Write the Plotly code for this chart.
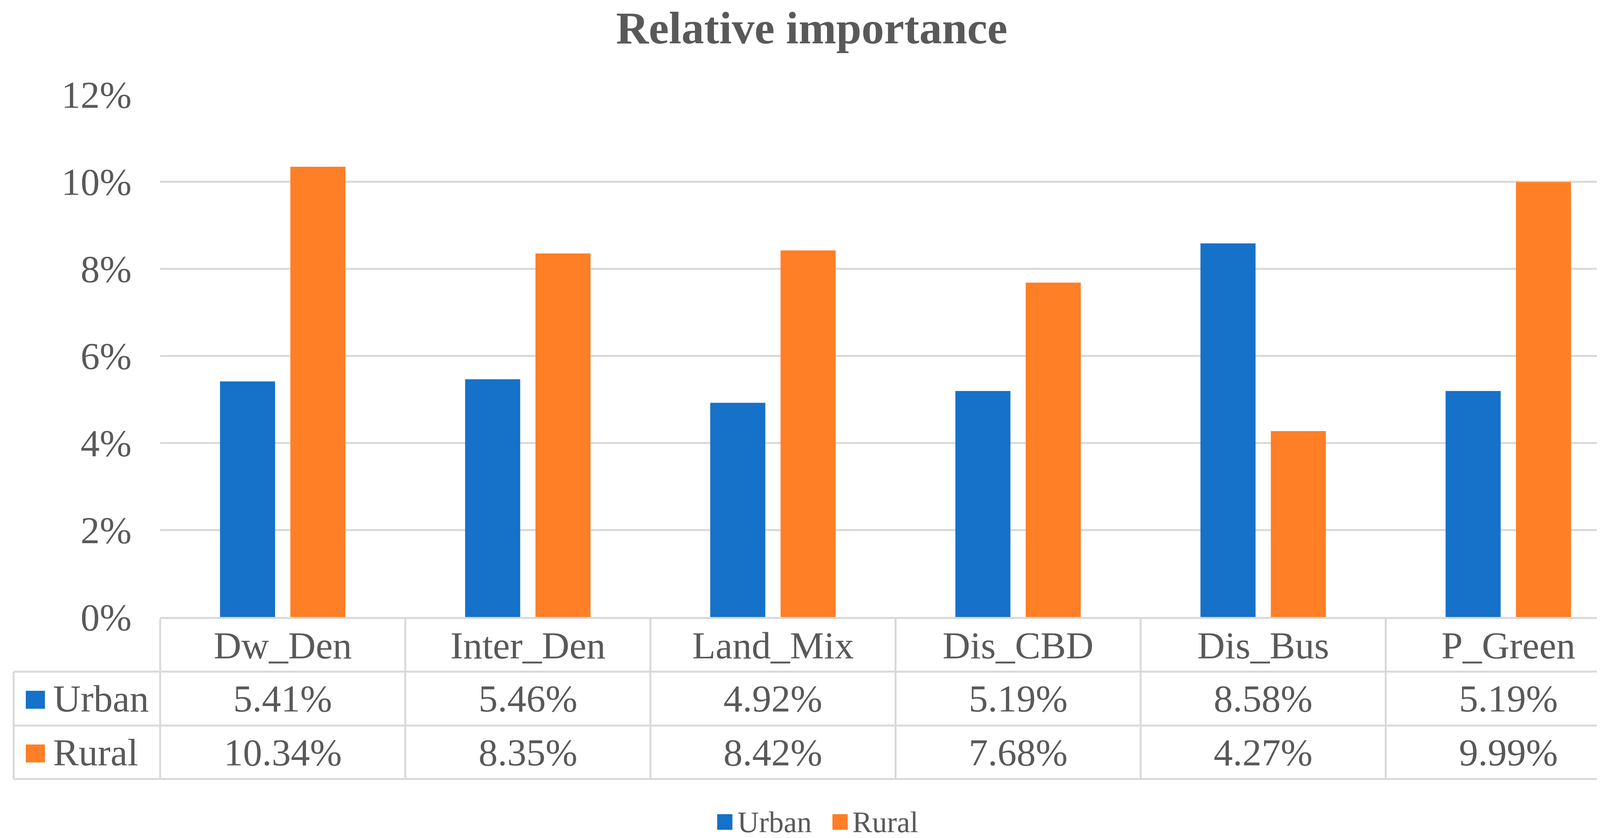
import plotly.graph_objects as go

# ---- data ----
categories = ["Dw_Den", "Inter_Den", "Land_Mix", "Dis_CBD", "Dis_Bus", "P_Green"]
urban = [5.41, 5.46, 4.92, 5.19, 8.58, 5.19]   # percent
rural = [10.34, 8.35, 8.42, 7.68, 4.27, 9.99]  # percent
series_names = ["Urban", "Rural"]
y_ticks = [0, 0.02, 0.04, 0.06, 0.08, 0.10, 0.12]

# ---- style ----
W, H = 4201, 2146
PL, PR, PT, PB = 402, 4167, 234, 1572   # plot area in pixels
BLUE = "#1671C8"
ORANGE = "#FE7F26"
TXT = "#595959"
GRID = "#D9D9D9"
FONT = "Liberation Serif"

def px(xp):
    return (xp - PL) / (PR - PL)

def py(yp):
    return (PB - yp) / (PB - PT)

fig = go.Figure()
fig.add_trace(go.Bar(x=categories, y=[v / 100 for v in urban], name=series_names[0],
                     marker=dict(color=BLUE, line=dict(width=0)), showlegend=False))
fig.add_trace(go.Bar(x=categories, y=[v / 100 for v in rural], name=series_names[1],
                     marker=dict(color=ORANGE, line=dict(width=0)), showlegend=False))

shapes = []
annotations = []
line = dict(color=GRID, width=5)

# table geometry (pixels)
row_top, row_h1, row_h2, row_bot = 1577, 1712, 1850, 1987
left_edge = 27
n = len(categories)
# horizontal lines
for yy in (row_h1, row_h2, row_bot):
    shapes.append(dict(type="line", xref="paper", yref="paper",
                       x0=px(left_edge), x1=1, y0=py(yy), y1=py(yy), line=line))
# vertical lines for columns
for k in range(n + 1):
    shapes.append(dict(type="line", xref="paper", yref="paper",
                       x0=k / n, x1=k / n, y0=py(row_top), y1=py(row_bot), line=line))
# left edge of row labels
shapes.append(dict(type="line", xref="paper", yref="paper",
                   x0=px(left_edge), x1=px(left_edge), y0=py(row_h1), y1=py(row_bot), line=line))

# header labels
for c in categories:
    annotations.append(dict(x=c, xref="x", y=py((row_top + row_h1) / 2), yref="paper",
                            text=c, showarrow=False, xanchor="center", yanchor="middle",
                            font=dict(family=FONT, size=98, color=TXT)))
# row values
rows = [(series_names[0], urban, BLUE, (row_h1 + row_h2) / 2),
        (series_names[1], rural, ORANGE, (row_h2 + row_bot) / 2)]
for name, vals, col, yc in rows:
    for c, v in zip(categories, vals):
        annotations.append(dict(x=c, xref="x", y=py(yc), yref="paper",
                                text=f"{v:.2f}%", showarrow=False, xanchor="center",
                                yanchor="middle", font=dict(family=FONT, size=98, color=TXT)))
    # key square
    shapes.append(dict(type="rect", xref="paper", yref="paper",
                       x0=px(58), x1=px(107), y0=py(yc - 20), y1=py(yc + 26),
                       fillcolor=col, line=dict(width=0)))
    annotations.append(dict(x=px(126), xref="paper", y=py(yc), yref="paper",
                            text=name, showarrow=False, xanchor="left", yanchor="middle",
                            font=dict(family=FONT, size=98, color=TXT)))

# bottom legend
leg_y = 2097
for name, col, sx, tx in [(series_names[0], BLUE, 1828, 1878), (series_names[1], ORANGE, 2123, 2172)]:
    shapes.append(dict(type="rect", xref="paper", yref="paper",
                       x0=px(sx), x1=px(sx + 39), y0=py(leg_y - 20), y1=py(leg_y + 20),
                       fillcolor=col, line=dict(width=0)))
    annotations.append(dict(x=px(tx), xref="paper", y=py(leg_y), yref="paper",
                            text=name, showarrow=False, xanchor="left", yanchor="middle",
                            font=dict(family=FONT, size=76, color=TXT)))

fig.update_layout(
    width=W, height=H,
    margin=dict(l=PL, r=W - PR, t=PT, b=H - PB, pad=0),
    paper_bgcolor="white", plot_bgcolor="white",
    barmode="group", bargap=0.426, bargroupgap=0.217,
    title=dict(text="<b>Relative importance</b>", x=2070 / W, xref="container", xanchor="center",
               y=1 - 62 / H, yref="container", yanchor="middle",
               font=dict(family=FONT, size=116, color=TXT)),
    xaxis=dict(showticklabels=False, ticks="", showgrid=False, showline=True,
               linecolor=GRID, linewidth=5, range=[-0.5, n - 0.5]),
    yaxis=dict(range=[0, 0.12], tickvals=y_ticks, tickformat=".0%", showgrid=True,
               gridcolor=GRID, gridwidth=5, zeroline=False, showline=False, ticks="",
               ticklabelstandoff=72,
               tickfont=dict(family=FONT, size=98, color=TXT)),
    shapes=shapes, annotations=annotations,
)

fig.write_html("out.html")
